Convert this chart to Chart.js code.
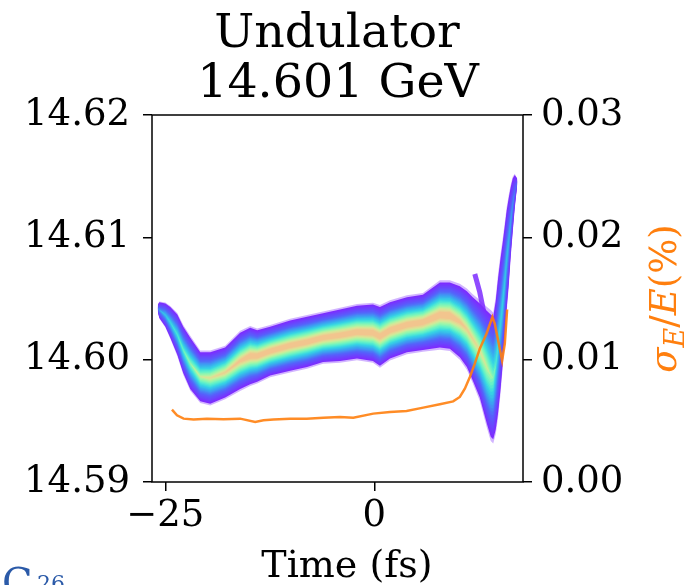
<!DOCTYPE html>
<html>
<head>
<meta charset="utf-8">
<script src="https://cdn.jsdelivr.net/npm/chart.js@4.4.0/dist/chart.umd.min.js"></script>
<style>
  html, body { margin: 0; padding: 0; background: #fff; }
</style>
</head>
<body>
<canvas id="chart" width="685" height="585"></canvas>
<script>
// phase space band (outer edges), time in fs, energy in GeV
const bandTime = [-25.90, -25.72, -25.00, -24.41, -23.57, -22.86, -22.02, -20.82, -19.63, -17.84,
  -16.05, -14.85, -14.01, -12.46, -10.07, -8.04, -6.13, -4.10, -2.07, -0.16,
  0.68, 1.88, 3.91, 5.82, 7.85, 9.04, 10.24, 11.08, 11.79, 12.63,
  13.46, 13.94, 14.24, 14.54, 14.81, 15.10, 15.38, 15.62, 15.85, 16.09,
  16.33, 16.57, 16.81, 17.11];
const bandTop = [14.6045, 14.6047, 14.6046, 14.6043, 14.6037, 14.6027, 14.6018, 14.6006, 14.6006, 14.6010,
  14.6022, 14.6026, 14.6024, 14.6027, 14.6032, 14.6035, 14.6038, 14.6041, 14.6044, 14.6045,
  14.6043, 14.6047, 14.6051, 14.6053, 14.6063, 14.6063, 14.6060, 14.6056, 14.6051, 14.6046,
  14.6040, 14.6037, 14.6035, 14.6048, 14.6066, 14.6082, 14.6096, 14.6109, 14.6122, 14.6132,
  14.6141, 14.6148, 14.6151, 14.6148];
const bandBottom = [14.6039, 14.6034, 14.6027, 14.6018, 14.6004, 14.5989, 14.5976, 14.5966, 14.5964, 14.5969,
  14.5976, 14.5980, 14.5982, 14.5987, 14.5991, 14.5994, 14.5998, 14.5999, 14.6001, 14.5999,
  14.5995, 14.6001, 14.6006, 14.6008, 14.6010, 14.6009, 14.6002, 14.5994, 14.5983, 14.5969,
  14.5948, 14.5937, 14.5935, 14.5943, 14.5956, 14.5975, 14.5997, 14.6019, 14.6042, 14.6061,
  14.6085, 14.6105, 14.6124, 14.6143];
// relative peak density across the band
const bandPeak = [0.25, 0.4, 0.5, 0.55, 0.6, 0.65, 0.72, 0.8, 0.85, 0.9,
  0.95, 1, 1, 1, 1, 1, 1, 1, 1, 1,
  1, 1, 1, 1, 1, 1, 0.95, 0.9, 0.88, 0.85,
  0.8, 0.75, 0.7, 0.62, 0.58, 0.55, 0.55, 0.52, 0.5, 0.47,
  0.43, 0.38, 0.3, 0.2];

// thin stray branch above the dip
const spurTime = [12.03, 12.63, 13.25];
const spurEnergy = [14.6070, 14.6055, 14.6034];

// energy spread sigma_E/E (%)
const sigmaTime = [-24.21, -23.61, -22.82, -21.62, -20.03, -18.04, -16.05, -14.25, -13.26, -12.06,
  -10.07, -8.08, -6.09, -4.10, -2.51, -0.12, 1.88, 3.87, 5.86, 7.85,
  9.44, 10.24, 10.84, 11.44, 12.03, 12.63, 13.43, 14.14, 14.42, 14.82,
  15.30, 15.62, 15.90];
const sigmaValue = [0.00591, 0.00545, 0.00518, 0.00510, 0.00518, 0.00512, 0.00518, 0.00490, 0.00504, 0.00510,
  0.00518, 0.00518, 0.00526, 0.00531, 0.00526, 0.00559, 0.00572, 0.00580, 0.00608, 0.00635,
  0.00659, 0.00695, 0.00763, 0.00858, 0.00967, 0.01090, 0.01212, 0.01348, 0.01294, 0.01158,
  0.00994, 0.01130, 0.01410];

const timeTicks = [-25, 0];
const energyTicks = [14.59, 14.60, 14.61, 14.62];
const sigmaTicks = [0.00, 0.01, 0.02, 0.03];

const titleLines = ['Undulator', '14.601 GeV'];
const xLabel = 'Time (fs)';

// colour stops of the density map, outer edge to core
const colorStops = [
  [0.00, [125, 44, 255]],
  [0.25, [85, 99, 251]],
  [0.40, [58, 166, 240]],
  [0.52, [54, 214, 228]],
  [0.62, [98, 242, 200]],
  [0.72, [160, 247, 168]],
  [0.80, [216, 232, 152]],
  [0.90, [242, 197, 142]]
];
function mapColor(L) {
  for (let i = 1; i < colorStops.length; i++) {
    if (L <= colorStops[i][0]) {
      const [l0, c0] = colorStops[i - 1], [l1, c1] = colorStops[i];
      const u = (L - l0) / (l1 - l0);
      const c = c0.map((v, j) => Math.round(v + (c1[j] - v) * u));
      return 'rgb(' + c.join(',') + ')';
    }
  }
  return 'rgb(' + colorStops[colorStops.length - 1][1].join(',') + ')';
}
const levelCount = 24;
const levels = [];
for (let i = 0; i < levelCount; i++) levels.push(i * 0.9 / (levelCount - 1));

const serif = '"DejaVu Serif", serif';
const tickFont = { family: serif, size: 37 };

function contour(level, widen) {
  const up = [], lo = [];
  bandTime.forEach((t, i) => {
    const c = (bandTop[i] + bandBottom[i]) / 2;
    const h = (bandTop[i] - bandBottom[i]) / 2 * widen;
    const f = Math.max(0, 1 - level / bandPeak[i]);
    up.push({ x: t, y: c + h * f });
    lo.push({ x: t, y: c - h * f });
  });
  return [up, lo];
}

const datasets = [];
datasets.push({
  data: sigmaTime.map((t, i) => ({ x: t, y: sigmaValue[i] })),
  yAxisID: 'y2',
  borderColor: 'rgba(255,127,14,0.9)',
  borderWidth: 2.5,
  pointRadius: 0,
  fill: false
});
function addBand(up, lo, color) {
  const upperIndex = datasets.length;
  datasets.push({ data: up, yAxisID: 'y', borderColor: 'rgba(0,0,0,0)', borderWidth: 0, pointRadius: 0, fill: false });
  datasets.push({ data: lo, yAxisID: 'y', borderColor: 'rgba(0,0,0,0)', borderWidth: 0, pointRadius: 0,
    fill: upperIndex, backgroundColor: color });
}
for (let k = levels.length - 1; k >= 0; k--) {
  const [up, lo] = contour(levels[k], 1);
  addBand(up, lo, mapColor(levels[k]));
}
// fuzzy outer fringe
{
  const [up, lo] = contour(0, 1.07);
  addBand(up, lo, 'rgba(125,44,255,0.35)');
}
datasets.push({
  data: spurTime.map((t, i) => ({ x: t, y: spurEnergy[i] })),
  yAxisID: 'y',
  borderColor: 'rgba(125,44,255,0.85)',
  borderWidth: 5,
  pointRadius: 0,
  fill: false
});

const tickGrid = { drawOnChartArea: false, drawTicks: true, tickLength: 9, color: '#000', lineWidth: 1.5 };

const textPlugin = {
  id: 'textPlugin',
  afterDraw(chart) {
    const ctx = chart.ctx;
    const a = chart.chartArea;
    ctx.save();
    ctx.strokeStyle = '#000';
    ctx.lineWidth = 1.5;
    ctx.strokeRect(a.left, a.top, a.right - a.left, a.bottom - a.top);

    ctx.fillStyle = '#000';
    ctx.textAlign = 'center';
    ctx.textBaseline = 'alphabetic';
    ctx.font = '47.5px ' + serif;
    ctx.fillText(titleLines[0], 337, 47);
    ctx.fillText(titleLines[1], 338, 97);
    ctx.font = '38px ' + serif;
    ctx.fillText(xLabel, 347, 577);

    // right axis label sigma_E/E(%), centred on the axis
    const parts = [
      { s: '\u03c3', font: 'italic 37px ' + serif, dy: 0 },
      { s: 'E', font: 'italic 27px ' + serif, dy: 8 },
      { s: '/', font: '37px ' + serif, dy: 0 },
      { s: 'E', font: 'italic 37px ' + serif, dy: 0 },
      { s: '(%)', font: '37px ' + serif, dy: 0 }
    ];
    let total = 0;
    parts.forEach(p => { ctx.font = p.font; p.w = ctx.measureText(p.s).width; total += p.w; });
    ctx.translate(676, (a.top + a.bottom) / 2);
    ctx.rotate(-Math.PI / 2);
    ctx.fillStyle = '#ff7f0e';
    ctx.textAlign = 'left';
    let xPos = -total / 2;
    parts.forEach(p => { ctx.font = p.font; ctx.fillText(p.s, xPos, p.dy); xPos += p.w; });
    ctx.restore();

    // cropped caption in the corner
    ctx.save();
    ctx.fillStyle = '#2b5aa8';
    ctx.textAlign = 'left';
    ctx.font = '40px ' + serif;
    ctx.fillText('C', 2, 596);
    ctx.font = '22px ' + serif;
    ctx.fillText('26', 37, 591);
    ctx.restore();
  }
};

new Chart(document.getElementById('chart').getContext('2d'), {
  type: 'line',
  data: { datasets: datasets },
  options: {
    responsive: false,
    animation: false,
    layout: { padding: { top: 115, left: 0, right: 0, bottom: 0 } },
    plugins: { legend: { display: false }, tooltip: { enabled: false } },
    scales: {
      x: {
        type: 'linear', min: -26.6, max: 17.8,
        afterBuildTicks: s => { s.ticks = timeTicks.map(v => ({ value: v })); },
        afterFit: s => { s.height = 103; },
        grid: tickGrid,
        border: { display: false },
        ticks: { font: tickFont, color: '#000', padding: 3, maxRotation: 0, autoSkip: false,
          callback: v => v < 0 ? '\u2212' + Math.abs(v) : String(v) }
      },
      y: {
        type: 'linear', position: 'left', min: 14.59, max: 14.62,
        afterBuildTicks: s => { s.ticks = energyTicks.map(v => ({ value: v })); },
        afterFit: s => { s.width = 152; },
        grid: tickGrid,
        border: { display: false },
        ticks: { font: tickFont, color: '#000', padding: 13, autoSkip: false, callback: v => v.toFixed(2) }
      },
      y2: {
        type: 'linear', position: 'right', min: 0, max: 0.03,
        afterBuildTicks: s => { s.ticks = sigmaTicks.map(v => ({ value: v })); },
        afterFit: s => { s.width = 162; },
        grid: tickGrid,
        border: { display: false },
        ticks: { font: tickFont, color: '#000', padding: 9, autoSkip: false, callback: v => v.toFixed(2) }
      }
    }
  },
  plugins: [textPlugin]
});
</script>
</body>
</html>
